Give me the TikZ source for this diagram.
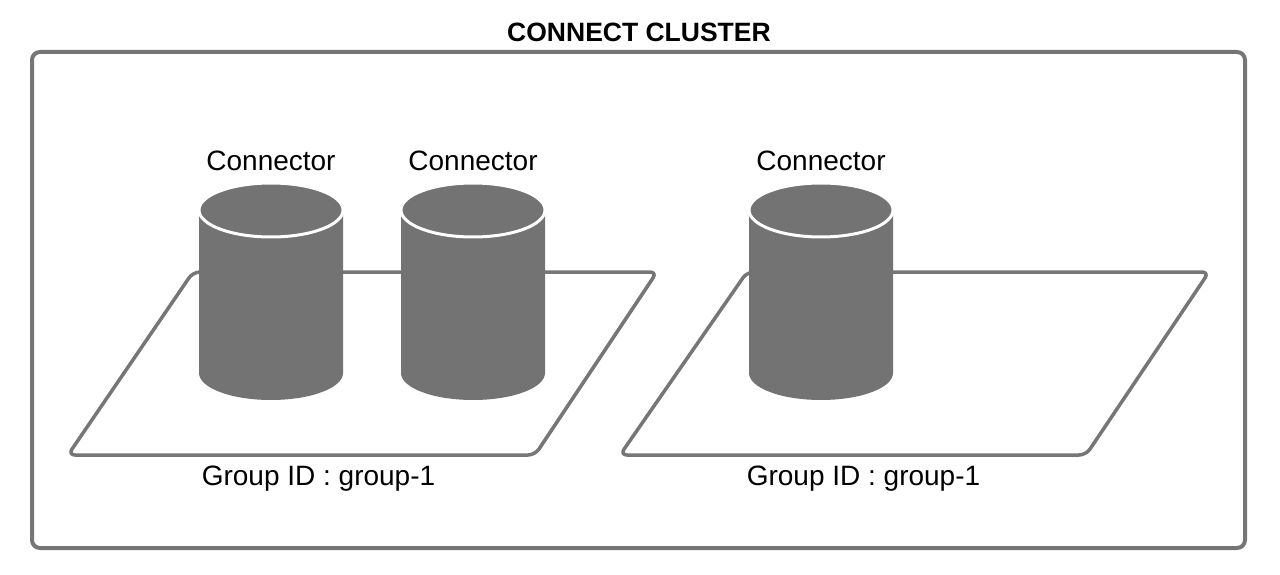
\documentclass[tikz,border=0pt]{standalone}
\usepackage{fontspec}
\setmainfont{Liberation Sans}
\usepackage{tikz}
\definecolor{cylgray}{HTML}{737373}
\definecolor{linegray}{HTML}{767676}

\begin{document}
\begin{tikzpicture}[x=1pt,y=1pt,
    frame/.style={draw=linegray,line width=4pt,rounded corners=8pt},
    plane/.style={draw=linegray,line width=3.5pt,rounded corners=7pt,line join=round},
    cylbody/.style={fill=cylgray},
    cyltop/.style={fill=cylgray,draw=white,line width=3pt},
    lbl/.style={font=\fontsize{28}{34}\selectfont,inner sep=0pt},
    ttl/.style={font=\fontsize{26.5}{32}\selectfont\bfseries,inner sep=0pt}]
    \useasboundingbox (0,0) rectangle (1280,574);
    \draw[frame] (32,26) rectangle (1245,522);
    \node[ttl] (title) at (639,542) {CONNECT CLUSTER};
    \draw[plane] (193,302) -- (657,302) -- (535,119) -- (68,119) -- cycle;
    \draw[plane] (747,302) -- (1209,302) -- (1086,119) -- (620,119) -- cycle;
    \foreach \cx/\nm in {271/connA,473/connB,821/connC} {
        \fill[cylbody] (\cx-72,364) -- (\cx-72,201) arc[start angle=180,end angle=360,x radius=72,y radius=27] -- (\cx+72,364) -- cycle;
        \draw[cyltop] (\cx,364) ellipse[x radius=72,y radius=27];
        \node[lbl] (\nm) at (\cx,413) {Connector};
    }
    \node[lbl] (groupA) at (318.5,95) {Group ID : group-1};
    \node[lbl] (groupB) at (863.5,95) {Group ID : group-1};
\end{tikzpicture}
\end{document}
